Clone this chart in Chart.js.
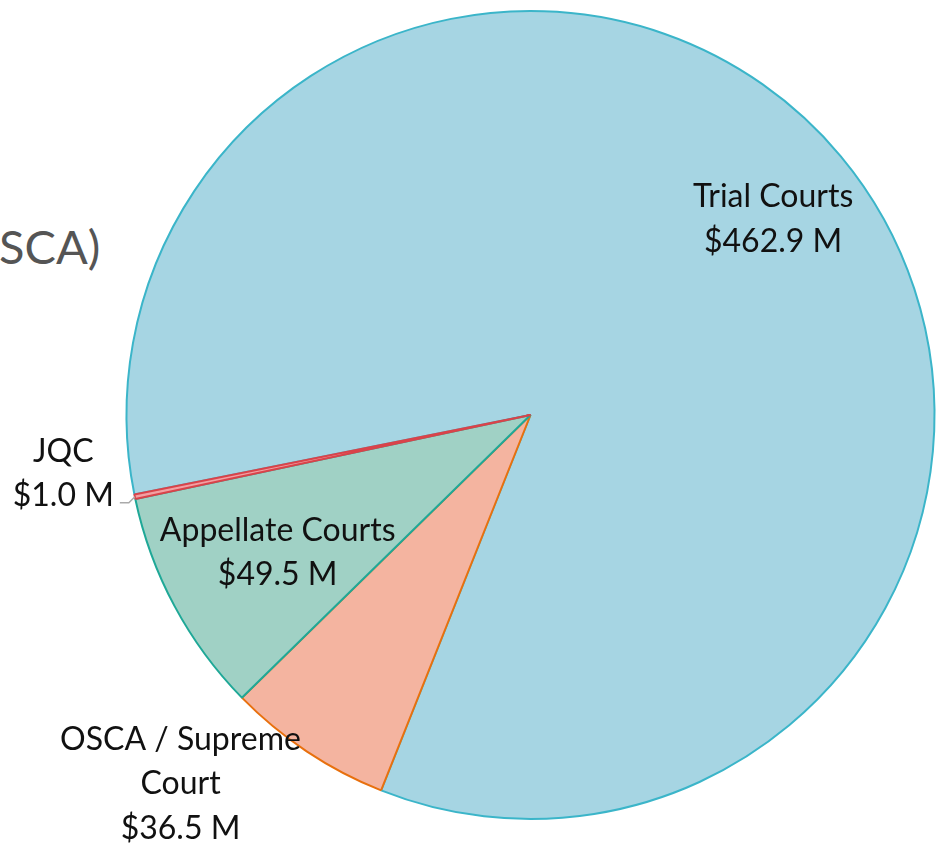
<!DOCTYPE html>
<html>
<head>
<meta charset="utf-8">
<script src="https://cdn.jsdelivr.net/npm/chart.js@4"></script>
<style>
  html, body { margin: 0; padding: 0; background: #fff; }
  #wrap { position: relative; width: 942px; height: 846px; overflow: hidden; }
  #title { position: absolute; left: -1px; top: 218px; font-family: Lato, sans-serif; font-size: 47px; color: #555; white-space: nowrap; }
  canvas { position: absolute; left: 0; top: 0; }
</style>
</head>
<body>
<div id="wrap">
  <div id="title">SCA)</div>
  <canvas id="chart" width="942" height="846"></canvas>
</div>
<script>
// slice order follows the pie clockwise, starting with Trial Courts
var categories = ['Trial Courts', 'OSCA / Supreme Court', 'Appellate Courts', 'JQC'];
var budget = [462.9, 36.5, 49.5, 1.0];   // $ millions
var labelLines = [
    ['Trial Courts', '$462.9 M'],
    ['OSCA / Supreme', 'Court', '$36.5 M'],
    ['Appellate Courts', '$49.5 M'],
    ['JQC', '$1.0 M']
];

var fills = ['#a6d5e3', '#f4b4a0', '#a0d1c5', '#f2a0a3'];
var borders = ['#3bb5c9', '#e8700e', '#1fa897', '#d9434a'];

// where each label sits: radius factor and angle shift (degrees) from slice middle
var labelPlace = [
    {r: 0.775, shift: 0.6},
    {r: 1.255, shift: 10},
    {r: 0.71, shift: 0},
    {leader: true}
];

var FONT = '32px Lato, sans-serif';
var LINE_H = 44.5;

var sliceLabels = {
    id: 'sliceLabels',
    afterDatasetsDraw: function(chart) {
        var ctx = chart.ctx;
        var meta = chart.getDatasetMeta(0);
        ctx.save();
        ctx.font = FONT;
        ctx.fillStyle = '#111';
        ctx.textBaseline = 'middle';
        meta.data.forEach(function(arc, i) {
            var p = arc.getProps(['x', 'y', 'startAngle', 'endAngle', 'outerRadius'], true);
            var mid = (p.startAngle + p.endAngle) / 2;
            var lines = labelLines[i];
            var place = labelPlace[i];
            if (place.leader) {
                var ex = p.x + Math.cos(mid) * p.outerRadius;
                var ey = p.y + Math.sin(mid) * p.outerRadius;
                ctx.strokeStyle = '#aaa';
                ctx.lineWidth = 1.5;
                ctx.beginPath();
                ctx.moveTo(ex, ey);
                ctx.lineTo(ex - 6, ey + 6);
                ctx.lineTo(ex - 15, ey + 6);
                ctx.stroke();
                ctx.textAlign = 'center';
                var w = 0;
                lines.forEach(function(t) { w = Math.max(w, ctx.measureText(t).width); });
                var cx = ex - 21 - w / 2;
                lines.forEach(function(t, k) {
                    ctx.fillText(t, cx, ey - 1 - (lines.length - 1 - k) * LINE_H);
                });
                return;
            }
            var a = mid + place.shift * Math.PI / 180;
            var lx = p.x + Math.cos(a) * p.outerRadius * place.r;
            var ly = p.y + Math.sin(a) * p.outerRadius * place.r;
            ctx.textAlign = 'center';
            lines.forEach(function(t, k) {
                ctx.fillText(t, lx, ly + 2 + (k - (lines.length - 1) / 2) * LINE_H);
            });
        });
        ctx.restore();
    }
};

var ctx = document.getElementById('chart').getContext('2d');
var myChart = new Chart(ctx, {
    type: 'pie',
    data: {
        labels: categories,
        datasets: [{
            data: budget,
            backgroundColor: fills,
            borderColor: borders,
            borderWidth: 2,
            hoverBorderWidth: 2
        }]
    },
    options: {
        responsive: false,
        animation: false,
        rotation: 258.66,
        layout: { padding: { left: 125, right: 6, top: 10, bottom: 26 } },
        plugins: {
            legend: { display: false },
            tooltip: { enabled: false }
        }
    },
    plugins: [sliceLabels]
});
</script>
</body>
</html>
